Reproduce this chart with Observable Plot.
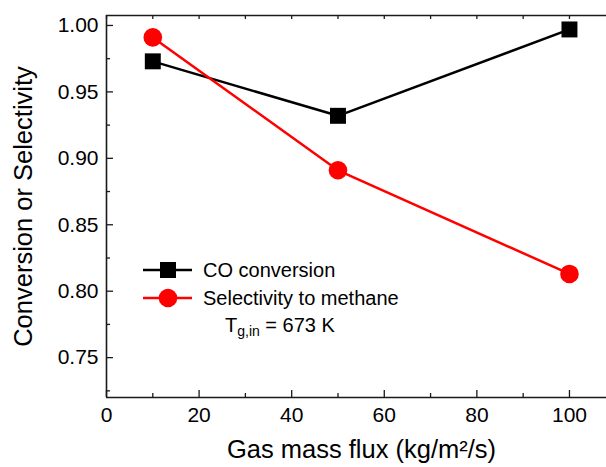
<!DOCTYPE html>
<html>
<head>
<meta charset="utf-8">
<script src="https://cdn.jsdelivr.net/npm/d3@7"></script>
<script src="https://cdn.jsdelivr.net/npm/@observablehq/plot@0.6"></script>
<style>
  html, body { margin: 0; padding: 0; background: #fff; }
  #wrap { position: relative; width: 606px; height: 467px; font-family: "Liberation Sans", Arial, sans-serif; }
  #legend { position: absolute; left: 140px; top: 256px; font-size: 20px; color: #000; line-height: 28px; }
  #legend .row { display: flex; align-items: center; height: 28px; }
  #legend svg { margin-right: 11px; }
  #legend .note { padding-left: 85px; margin-top: -1px; }
  #legend sub { font-size: 14px; vertical-align: -4px; line-height: 0; }
</style>
</head>
<body>
<div id="wrap"></div>
<script>
// ---- data ----
const massFlux = [10, 50, 100];
const coConversion = [0.973, 0.932, 0.997];
const methaneSelectivity = [0.991, 0.891, 0.813];
const seriesNames = ["CO conversion", "Selectivity to methane"];
const xTicks = [0, 20, 40, 60, 80, 100];
const xMinorTicks = [10, 30, 50, 70, 90];
const yTicks = [0.75, 0.80, 0.85, 0.90, 0.95, 1.00];
const yMinorTicks = [0.725, 0.775, 0.825, 0.875, 0.925, 0.975];
const xLabel = "Gas mass flux (kg/m²/s)";
const yLabel = "Conversion or Selectivity";

const co = massFlux.map((x, i) => ({x, y: coConversion[i]}));
const sel = massFlux.map((x, i) => ({x, y: methaneSelectivity[i]}));

const W = 606, H = 467, mT = 15, mB = 70, mL = 106, mR = 0;
const innerH = H - mT - mB, innerW = W - mL - mR;
const axisColor = "#1a1a1a";

const chart = Plot.plot({
  width: W, height: H,
  marginTop: mT, marginBottom: mB, marginLeft: mL, marginRight: mR,
  style: {fontFamily: '"Liberation Sans", Arial, sans-serif', background: "#fff", color: "#000"},
  x: {domain: [0, 108]},
  y: {domain: [0.72, 1.0075]},
  marks: [
    // frame (top, bottom, left)
    Plot.ruleY([0.72, 1.0075], {stroke: axisColor, strokeWidth: 1.6}),
    Plot.ruleX([0], {stroke: axisColor, strokeWidth: 1.6}),
    // inward ticks bottom
    Plot.tickX(xTicks, {x: d => d, insetTop: innerH - 7, stroke: axisColor, strokeWidth: 1.3}),
    Plot.tickX(xMinorTicks, {x: d => d, insetTop: innerH - 4, stroke: axisColor, strokeWidth: 1.3}),
    // inward ticks top
    Plot.tickX(xTicks.concat(xMinorTicks), {x: d => d, insetBottom: innerH - 4, stroke: axisColor, strokeWidth: 1.3}),
    // inward ticks left
    Plot.tickY(yTicks, {y: d => d, insetRight: innerW - 7, stroke: axisColor, strokeWidth: 1.3}),
    Plot.tickY(yMinorTicks, {y: d => d, insetRight: innerW - 4, stroke: axisColor, strokeWidth: 1.3}),
    // tick labels
    Plot.axisX({ticks: xTicks, tickSize: 0, tickPadding: 10, fontSize: 21, label: null, tickFormat: d3.format("d")}),
    Plot.axisY({ticks: yTicks, tickSize: 0, tickPadding: 8, fontSize: 21, label: null, tickFormat: d3.format(".2f")}),
    // axis titles
    Plot.text([xLabel], {frameAnchor: "bottom", textAnchor: "middle", dx: 5, dy: 60, fontSize: 25.5, text: d => d}),
    Plot.text([yLabel], {frameAnchor: "left", textAnchor: "middle", rotate: -90, dx: -83, fontSize: 25.5, text: d => d}),
    // series
    Plot.line(co, {x: "x", y: "y", stroke: "#000", strokeWidth: 2.5}),
    Plot.line(sel, {x: "x", y: "y", stroke: "#ff0000", strokeWidth: 2.5}),
    Plot.dot(co, {x: "x", y: "y", symbol: "square", r: 9, fill: "#000", stroke: null}),
    Plot.dot(sel, {x: "x", y: "y", symbol: "circle", r: 9.3, fill: "#ff0000", stroke: null})
  ]
});

const wrap = document.getElementById("wrap");
wrap.appendChild(chart);

const legend = document.createElement("div");
legend.id = "legend";
legend.innerHTML = `
  <div class="row"><svg width="52" height="20"><line x1="3" y1="10" x2="52" y2="10" stroke="#000" stroke-width="2.5"/><rect x="20" y="2" width="16" height="16" fill="#000"/></svg><span>${seriesNames[0]}</span></div>
  <div class="row"><svg width="52" height="20"><line x1="3" y1="10" x2="52" y2="10" stroke="#ff0000" stroke-width="2.5"/><circle cx="28" cy="10" r="9.3" fill="#ff0000"/></svg><span>${seriesNames[1]}</span></div>
  <div class="note">T<sub>g,in</sub> = 673 K</div>`;
wrap.appendChild(legend);
</script>
</body>
</html>
